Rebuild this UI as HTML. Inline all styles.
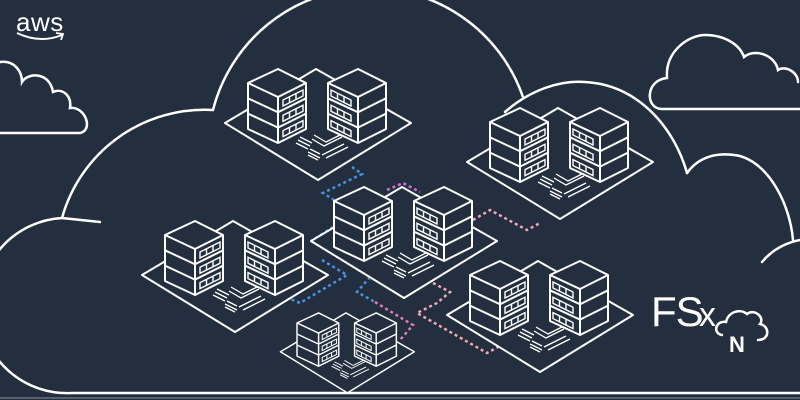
<!DOCTYPE html>
<html><head><style>
html,body{margin:0;padding:0;background:#232f3e;}
svg{display:block}
</style></head><body>
<svg width="800" height="400" viewBox="0 0 800 400" xmlns="http://www.w3.org/2000/svg">
<defs>
<g id="stackL">
 <path d="M0,0 L30,-14 L58,0 L58,46 L30,60 L0,46 Z" fill="#232f3e" stroke="#fff" stroke-width="2" stroke-linejoin="round"/>
 <path d="M0,0 L30,14 L58,0 M30,14 L30,60 M0,15.3 L30,29.3 L58,15.3 M0,30.6 L30,44.6 L58,30.6" fill="none" stroke="#fff" stroke-width="2"/>
 <g fill="none" stroke="#fff" stroke-width="1.4">
  <path d="M35,17 L55,7 L55,13 L35,23 Z M41.5,14 L41.5,20 M48,10.5 L48,16.5"/>
  <path d="M35,32.3 L55,22.3 L55,28.3 L35,38.3 Z M41.5,29.3 L41.5,35.3 M48,25.8 L48,31.8"/>
  <path d="M35,47.6 L55,37.6 L55,43.6 L35,53.6 Z M41.5,44.6 L41.5,50.6 M48,41.1 L48,47.1"/>
 </g>
</g>
<g id="stackR">
 <path d="M0,0 L30,-14 L58,0 L58,46 L30,60 L0,46 Z" fill="#232f3e" stroke="#fff" stroke-width="2" stroke-linejoin="round"/>
 <path d="M0,0 L30,14 L58,0 M30,14 L30,60 M0,15.3 L30,29.3 L58,15.3 M0,30.6 L30,44.6 L58,30.6" fill="none" stroke="#fff" stroke-width="2"/>
 <g fill="none" stroke="#fff" stroke-width="1.4">
  <path d="M3,7 L23,17 L23,23 L3,13 Z M9.5,10.5 L9.5,16.5 M16,13.5 L16,19.5"/>
  <path d="M3,22.3 L23,32.3 L23,38.3 L3,28.3 Z M9.5,25.8 L9.5,31.8 M16,28.8 L16,34.8"/>
  <path d="M3,37.6 L23,47.6 L23,53.6 L3,43.6 Z M9.5,41.1 L9.5,47.1 M16,44.1 L16,50.1"/>
 </g>
</g>
<g id="cluster">
 <path d="M-23,40 L68,-14 L163,40 L70,97 Z" fill="#232f3e" stroke="#fff" stroke-width="2" stroke-linejoin="round"/>
 <g fill="none" stroke="#fff" stroke-width="1.3">
  <path d="M52,54 L64,60 M50,57 L62,63 M48,60 L60,66"/>
  <path d="M62,66 L72,71 M60,69 L72,75 M60,72 L70,77"/>
  <path d="M64,56 L76,63 L94,54 M66,52 L78,59 L98,49 M74,72 L96,61 M78,75 L100,64"/>
 </g>
 <use href="#stackL" x="0" y="0"/>
 <use href="#stackR" x="80" y="0"/>
</g>
</defs>

<!-- clouds -->
<g fill="none" stroke="#fff" stroke-width="2.5" stroke-linecap="round">
 <path d="M0,62 C15,60 22,72 22,82 C28,72 50,72 53,92 C62,88 72,95 70,108 C85,106 94,130 80,133 L0,133"/>
 <path d="M800,109 L662,109 C645,109 645,80 667,78 C665,50 690,35 705,35 C725,35 740,45 744,57 C755,48 775,55 778,70 C785,65 798,72 798,82"/>
 <path d="M100,222 L62,218 A148,148 0 0 1 213,110 A162,162 0 0 1 523,97"/>
 <path d="M62,218 A86,86 0 0 0 72,393 L800,393"/>
 <path d="M505,112 C530,90 560,80 585,82 C640,85 675,130 687,173"/>
 <path d="M687,173 C700,155 720,152 740,156 C770,165 790,205 793,240"/>
 <path d="M762,262 C772,250 785,243 800,240"/>
</g>
<line x1="0" y1="398" x2="800" y2="398" stroke="#8a93a0" stroke-width="1"/>

<!-- dashed connectors -->
<g fill="none" stroke-width="2.5" stroke-dasharray="3 3">
 <path d="M352,167 L362,174 L323,193 L334,200" stroke="#4a90e2"/>
 <path d="M333,227 L311,241" stroke="#4a90e2"/>
 <path d="M322,260 L347,275 L300,303 L288,298" stroke="#4a90e2"/>
 <path d="M370,277 L357,292 L375,302" stroke="#4a90e2"/>
 <path d="M375,302 L393,313 L413,325 L400,340" stroke="#e07ab8"/>
 <path d="M311,241 L357,269" stroke="#6f8fe0"/>
 <path d="M357,269 L403,297 L450,269" stroke="#c86ad6"/>
 <path d="M450,269 L496,241 L473,228" stroke="#e8a0c0"/>
 <path d="M387,190 L403,183 L420,192" stroke="#d070d0"/>
 <path d="M473,220 L490,210 L527,230 L540,223" stroke="#f0a8b8"/>
 <path d="M433,283 L450,292 L437,303 L417,313 L487,353 L498,347" stroke="#f0a8b8"/>
</g>

<!-- server clusters -->
<use href="#cluster" transform="translate(248,83)"/>
<use href="#cluster" transform="translate(490,122)"/>
<use href="#cluster" transform="translate(334,201)"/>
<use href="#cluster" transform="translate(165,235)"/>
<use href="#cluster" transform="translate(470,275)"/>
<use href="#cluster" transform="translate(297,323) scale(0.72)"/>

<!-- aws logo -->
<text x="16" y="31" fill="#fff" font-family="Liberation Sans, sans-serif" font-size="26" letter-spacing="0.5">aws</text>
<path d="M17,33 Q40,44 62,35" fill="none" stroke="#fff" stroke-width="2"/>
<path d="M56,33 L63,34 L61,40" fill="none" stroke="#fff" stroke-width="1.8"/>

<!-- FSx logo -->
<text x="651" y="326" fill="#fff" font-family="Liberation Sans, sans-serif" font-size="42" font-weight="normal" letter-spacing="-1">FS</text>
<text x="699" y="326" fill="#fff" font-family="Liberation Sans, sans-serif" font-size="34">x</text>
<path d="M722,335 C712,333 716,320 726,322 C728,312 740,308 747,314 C755,308 765,318 760,324 C770,326 770,340 758,340" fill="none" stroke="#fff" stroke-width="2.5" stroke-linecap="round"/>
<text x="729" y="352" fill="#fff" font-family="Liberation Sans, sans-serif" font-size="22" font-weight="bold">N</text>
</svg>
</body></html>
